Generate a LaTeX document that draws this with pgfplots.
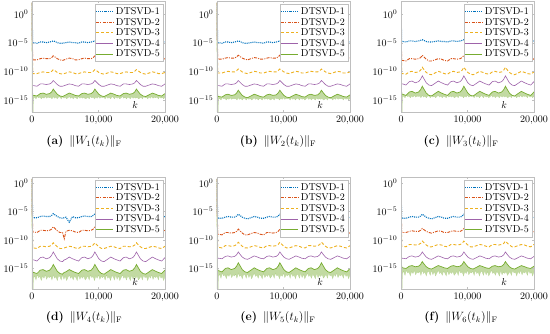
\documentclass[border=0pt]{standalone}
\usepackage{pgfplots}
\pgfplotsset{compat=1.18}
\usepackage{pgfplotstable}
\definecolor{mblue}{RGB}{0,114,189}
\definecolor{mred}{RGB}{217,83,25}
\definecolor{myellow}{RGB}{237,177,32}
\definecolor{mpurple}{RGB}{126,47,142}
\definecolor{mgreen}{RGB}{119,172,48}

\pgfplotstableread{
k B R Y P G
0 100 100 100 100 100
100 1e-5 1e-8 4e-11 3.2e-13 6.3e-15
250 1e-5 1e-8 4e-11 3.2e-13 6.3e-15
750 7.9e-6 1e-8 4e-11 2.5e-13 5e-15
1250 1.3e-5 1.6e-8 6.3e-11 6.3e-13 1.3e-14
1650 1.3e-5 2e-8 7.9e-11 6.3e-13 1.6e-14
2150 1e-5 1.6e-8 6.3e-11 5e-13 1e-14
2650 1.3e-5 1.6e-8 6.3e-11 6.3e-13 1.3e-14
2950 1.6e-5 2.5e-8 1e-10 1e-12 2.5e-14
3200 2e-5 5e-8 2e-10 2.5e-12 7.9e-14
3450 1.6e-5 3.2e-8 1.3e-10 1.3e-12 3.2e-14
3800 1e-5 1.6e-8 6.3e-11 5e-13 1e-14
4200 7.9e-6 1e-8 4e-11 2.5e-13 5e-15
4600 7.9e-6 7.9e-9 3.2e-11 2.5e-13 4e-15
5100 1e-5 1.3e-8 5e-11 4e-13 7.9e-15
5600 1.3e-5 2e-8 7.9e-11 6.3e-13 1.6e-14
6100 1e-5 1.6e-8 6.3e-11 5e-13 1e-14
6500 1e-5 1e-8 4e-11 3.2e-13 6.3e-15
7000 7.9e-6 1e-8 4e-11 2.5e-13 5e-15
7500 1.3e-5 1.6e-8 6.3e-11 6.3e-13 1.3e-14
7900 1.3e-5 2e-8 7.9e-11 6.3e-13 1.6e-14
8400 1e-5 1.6e-8 6.3e-11 5e-13 1e-14
8900 1.3e-5 1.6e-8 6.3e-11 6.3e-13 1.3e-14
9200 1.6e-5 2.5e-8 1e-10 1e-12 2.5e-14
9450 2e-5 5e-8 2e-10 2.5e-12 7.9e-14
9700 1.6e-5 3.2e-8 1.3e-10 1.3e-12 3.2e-14
10050 1e-5 1.6e-8 6.3e-11 5e-13 1e-14
10450 7.9e-6 1e-8 4e-11 2.5e-13 5e-15
10850 7.9e-6 7.9e-9 3.2e-11 2.5e-13 4e-15
11350 1e-5 1.3e-8 5e-11 4e-13 7.9e-15
11850 1.3e-5 2e-8 7.9e-11 6.3e-13 1.6e-14
12350 1e-5 1.6e-8 6.3e-11 5e-13 1e-14
12750 1e-5 1e-8 4e-11 3.2e-13 6.3e-15
13250 7.9e-6 1e-8 4e-11 2.5e-13 5e-15
13750 1.3e-5 1.6e-8 6.3e-11 6.3e-13 1.3e-14
14150 1.3e-5 2e-8 7.9e-11 6.3e-13 1.6e-14
14650 1e-5 1.6e-8 6.3e-11 5e-13 1e-14
15150 1.3e-5 1.6e-8 6.3e-11 6.3e-13 1.3e-14
15450 1.6e-5 2.5e-8 1e-10 1e-12 2.5e-14
15700 2e-5 5e-8 2e-10 2.5e-12 7.9e-14
15950 1.6e-5 3.2e-8 1.3e-10 1.3e-12 3.2e-14
16300 1e-5 1.6e-8 6.3e-11 5e-13 1e-14
16700 7.9e-6 1e-8 4e-11 2.5e-13 5e-15
17100 7.9e-6 7.9e-9 3.2e-11 2.5e-13 4e-15
17600 1e-5 1.3e-8 5e-11 4e-13 7.9e-15
18100 1.3e-5 2e-8 7.9e-11 6.3e-13 1.6e-14
18600 1e-5 1.6e-8 6.3e-11 5e-13 1e-14
19000 1e-5 1e-8 4e-11 3.2e-13 6.3e-15
19500 7.9e-6 1e-8 4e-11 2.5e-13 5e-15
20000 1.3e-5 1.6e-8 6.3e-11 6.3e-13 1.3e-14
}\tabA

\pgfplotstableread{
k B R Y P G
0 100 100 100 100 100
100 1e-5 1.3e-8 5e-11 3.2e-13 4e-15
250 1e-5 1.3e-8 5e-11 3.2e-13 4e-15
750 7.9e-6 1.3e-8 5e-11 2.5e-13 3.2e-15
1250 1.3e-5 2e-8 7.9e-11 6.3e-13 7.9e-15
1650 1.3e-5 2.5e-8 1e-10 6.3e-13 1e-14
2150 1e-5 2e-8 7.9e-11 5e-13 6.3e-15
2650 1.3e-5 2e-8 7.9e-11 6.3e-13 7.9e-15
2950 1.6e-5 3.2e-8 1.3e-10 1e-12 1.6e-14
3200 2e-5 6.3e-8 2.5e-10 2.5e-12 5e-14
3450 1.6e-5 4e-8 1.6e-10 1.3e-12 2e-14
3800 1e-5 2e-8 7.9e-11 5e-13 6.3e-15
4200 7.9e-6 1.3e-8 5e-11 2.5e-13 3.2e-15
4600 7.9e-6 1e-8 4e-11 2.5e-13 2.5e-15
5100 1e-5 1.6e-8 6.3e-11 4e-13 5e-15
5600 1.3e-5 2.5e-8 1e-10 6.3e-13 1e-14
6100 1e-5 2e-8 7.9e-11 5e-13 6.3e-15
6500 1e-5 1.3e-8 5e-11 3.2e-13 4e-15
7000 7.9e-6 1.3e-8 5e-11 2.5e-13 3.2e-15
7500 1.3e-5 2e-8 7.9e-11 6.3e-13 7.9e-15
7900 1.3e-5 2.5e-8 1e-10 6.3e-13 1e-14
8400 1e-5 2e-8 7.9e-11 5e-13 6.3e-15
8900 1.3e-5 2e-8 7.9e-11 6.3e-13 7.9e-15
9200 1.6e-5 3.2e-8 1.3e-10 1e-12 1.6e-14
9450 2e-5 6.3e-8 2.5e-10 2.5e-12 5e-14
9700 1.6e-5 4e-8 1.6e-10 1.3e-12 2e-14
10050 1e-5 2e-8 7.9e-11 5e-13 6.3e-15
10450 7.9e-6 1.3e-8 5e-11 2.5e-13 3.2e-15
10850 7.9e-6 1e-8 4e-11 2.5e-13 2.5e-15
11350 1e-5 1.6e-8 6.3e-11 4e-13 5e-15
11850 1.3e-5 2.5e-8 1e-10 6.3e-13 1e-14
12350 1e-5 2e-8 7.9e-11 5e-13 6.3e-15
12750 1e-5 1.3e-8 5e-11 3.2e-13 4e-15
13250 7.9e-6 1.3e-8 5e-11 2.5e-13 3.2e-15
13750 1.3e-5 2e-8 7.9e-11 6.3e-13 7.9e-15
14150 1.3e-5 2.5e-8 1e-10 6.3e-13 1e-14
14650 1e-5 2e-8 7.9e-11 5e-13 6.3e-15
15150 1.3e-5 2e-8 7.9e-11 6.3e-13 7.9e-15
15450 1.6e-5 3.2e-8 1.3e-10 1e-12 1.6e-14
15700 2e-5 6.3e-8 2.5e-10 2.5e-12 5e-14
15950 1.6e-5 4e-8 1.6e-10 1.3e-12 2e-14
16300 1e-5 2e-8 7.9e-11 5e-13 6.3e-15
16700 7.9e-6 1.3e-8 5e-11 2.5e-13 3.2e-15
17100 7.9e-6 1e-8 4e-11 2.5e-13 2.5e-15
17600 1e-5 1.6e-8 6.3e-11 4e-13 5e-15
18100 1.3e-5 2.5e-8 1e-10 6.3e-13 1e-14
18600 1e-5 2e-8 7.9e-11 5e-13 6.3e-15
19000 1e-5 1.3e-8 5e-11 3.2e-13 4e-15
19500 7.9e-6 1.3e-8 5e-11 2.5e-13 3.2e-15
20000 1.3e-5 2e-8 7.9e-11 6.3e-13 7.9e-15
}\tabB

\pgfplotstableread{
k B R Y P G
0 100 100 100 100 100
100 1.6e-5 7.9e-9 4e-11 6.3e-13 1e-14
250 1.6e-5 7.9e-9 4e-11 6.3e-13 1e-14
750 1.3e-5 6.3e-9 3.2e-11 4e-13 6.3e-15
1250 2e-5 1.6e-8 7.9e-11 1.6e-12 2.5e-14
1650 2e-5 1.6e-8 1e-10 2e-12 3.2e-14
2150 1.6e-5 1.3e-8 6.3e-11 1e-12 1.6e-14
2650 2e-5 1.6e-8 7.9e-11 1.6e-12 2.5e-14
2950 2.5e-5 2.5e-8 1.6e-10 4e-12 6.3e-14
3200 3.2e-5 6.3e-8 5e-10 1.6e-11 2.5e-13
3450 2.5e-5 3.2e-8 2e-10 5e-12 7.9e-14
3800 1.6e-5 1.3e-8 6.3e-11 1e-12 1.6e-14
4200 1.3e-5 6.3e-9 3.2e-11 4e-13 6.3e-15
4600 1.3e-5 6.3e-9 2.5e-11 3.2e-13 5e-15
5100 1.6e-5 1e-8 5e-11 7.9e-13 1.3e-14
5600 2e-5 1.6e-8 1e-10 2e-12 3.2e-14
6100 1.6e-5 1.3e-8 6.3e-11 1e-12 1.6e-14
6500 1.6e-5 7.9e-9 4e-11 6.3e-13 1e-14
7000 1.3e-5 6.3e-9 3.2e-11 4e-13 6.3e-15
7500 2e-5 1.6e-8 7.9e-11 1.6e-12 2.5e-14
7900 2e-5 1.6e-8 1e-10 2e-12 3.2e-14
8400 1.6e-5 1.3e-8 6.3e-11 1e-12 1.6e-14
8900 2e-5 1.6e-8 7.9e-11 1.6e-12 2.5e-14
9200 2.5e-5 2.5e-8 1.6e-10 4e-12 6.3e-14
9450 3.2e-5 6.3e-8 5e-10 1.6e-11 2.5e-13
9700 2.5e-5 3.2e-8 2e-10 5e-12 7.9e-14
10050 1.6e-5 1.3e-8 6.3e-11 1e-12 1.6e-14
10450 1.3e-5 6.3e-9 3.2e-11 4e-13 6.3e-15
10850 1.3e-5 6.3e-9 2.5e-11 3.2e-13 5e-15
11350 1.6e-5 1e-8 5e-11 7.9e-13 1.3e-14
11850 2e-5 1.6e-8 1e-10 2e-12 3.2e-14
12350 1.6e-5 1.3e-8 6.3e-11 1e-12 1.6e-14
12750 1.6e-5 7.9e-9 4e-11 6.3e-13 1e-14
13250 1.3e-5 6.3e-9 3.2e-11 4e-13 6.3e-15
13750 2e-5 1.6e-8 7.9e-11 1.6e-12 2.5e-14
14150 2e-5 1.6e-8 1e-10 2e-12 3.2e-14
14650 1.6e-5 1.3e-8 6.3e-11 1e-12 1.6e-14
15150 2e-5 1.6e-8 7.9e-11 1.6e-12 2.5e-14
15450 2.5e-5 2.5e-8 1.6e-10 4e-12 6.3e-14
15700 3.2e-5 6.3e-8 5e-10 1.6e-11 2.5e-13
15950 2.5e-5 3.2e-8 2e-10 5e-12 7.9e-14
16300 1.6e-5 1.3e-8 6.3e-11 1e-12 1.6e-14
16700 1.3e-5 6.3e-9 3.2e-11 4e-13 6.3e-15
17100 1.3e-5 6.3e-9 2.5e-11 3.2e-13 5e-15
17600 1.6e-5 1e-8 5e-11 7.9e-13 1.3e-14
18100 2e-5 1.6e-8 1e-10 2e-12 3.2e-14
18600 1.6e-5 1.3e-8 6.3e-11 1e-12 1.6e-14
19000 1.6e-5 7.9e-9 4e-11 6.3e-13 1e-14
19500 1.3e-5 6.3e-9 3.2e-11 4e-13 6.3e-15
20000 2e-5 1.6e-8 7.9e-11 1.6e-12 2.5e-14
}\tabC

\pgfplotstableread{
k B R Y P G
0 5 5 5 5 5
100 7.9e-7 2.5e-9 4e-12 3.2e-14 2e-16
250 7.9e-7 2.5e-9 4e-12 3.2e-14 2e-16
750 7.9e-7 2e-9 3.2e-12 2e-14 1.3e-16
1250 1.3e-6 5e-9 7.9e-12 7.9e-14 5e-16
1650 1.6e-6 5e-9 7.9e-12 1e-13 6.3e-16
2150 1.3e-6 4e-9 6.3e-12 5e-14 3.2e-16
2650 1.3e-6 5e-9 7.9e-12 7.9e-14 5e-16
2950 2e-6 7.9e-9 1.3e-11 2e-13 1.3e-15
3200 4e-6 2e-8 3.2e-11 7.9e-13 5e-15
3450 2.5e-6 1e-8 1.6e-11 2.5e-13 1.6e-15
3800 1.3e-6 4e-9 6.3e-12 5e-14 3.2e-16
4200 7.9e-7 2e-9 3.2e-12 2e-14 1.3e-16
4600 6.3e-7 2e-9 3.2e-12 1.6e-14 1e-16
4850 7.9e-7 1.6e-10 4e-12 3.2e-14 2e-16
5100 1e-6 3.2e-9 5e-12 4e-14 2.5e-16
5600 1.3e-7 5e-9 7.9e-12 1e-13 6.3e-16
6100 1.3e-6 4e-9 6.3e-12 5e-14 3.2e-16
6500 7.9e-7 2.5e-9 4e-12 3.2e-14 2e-16
7000 7.9e-7 2e-9 3.2e-12 2e-14 1.3e-16
7500 1.3e-6 5e-9 7.9e-12 7.9e-14 5e-16
7900 1.6e-6 5e-9 7.9e-12 1e-13 6.3e-16
8400 1.3e-6 4e-9 6.3e-12 5e-14 3.2e-16
8900 1.3e-6 5e-9 7.9e-12 7.9e-14 5e-16
9200 2e-6 7.9e-9 1.3e-11 2e-13 1.3e-15
9450 4e-6 2e-8 3.2e-11 7.9e-13 5e-15
9700 2.5e-6 1e-8 1.6e-11 2.5e-13 1.6e-15
10050 1.3e-6 4e-9 6.3e-12 5e-14 3.2e-16
10450 7.9e-7 2e-9 3.2e-12 2e-14 1.3e-16
10850 6.3e-7 2e-9 3.2e-12 1.6e-14 1e-16
11350 1e-6 3.2e-9 5e-12 4e-14 2.5e-16
11850 1.6e-6 5e-9 7.9e-12 1e-13 6.3e-16
12350 1.3e-6 4e-9 6.3e-12 5e-14 3.2e-16
12750 7.9e-7 2.5e-9 4e-12 3.2e-14 2e-16
13250 7.9e-7 2e-9 3.2e-12 2e-14 1.3e-16
13750 1.3e-6 5e-9 7.9e-12 7.9e-14 5e-16
14150 1.6e-6 5e-9 7.9e-12 1e-13 6.3e-16
14650 1.3e-6 4e-9 6.3e-12 5e-14 3.2e-16
15150 1.3e-6 5e-9 7.9e-12 7.9e-14 5e-16
15450 2e-6 7.9e-9 1.3e-11 2e-13 1.3e-15
15700 4e-6 2e-8 3.2e-11 7.9e-13 5e-15
15950 2.5e-6 1e-8 1.6e-11 2.5e-13 1.6e-15
16300 1.3e-6 4e-9 6.3e-12 5e-14 3.2e-16
16700 7.9e-7 2e-9 3.2e-12 2e-14 1.3e-16
17100 6.3e-7 2e-9 3.2e-12 1.6e-14 1e-16
17600 1e-6 3.2e-9 5e-12 4e-14 2.5e-16
18100 1.6e-6 5e-9 7.9e-12 1e-13 6.3e-16
18600 1.3e-6 4e-9 6.3e-12 5e-14 3.2e-16
19000 7.9e-7 2.5e-9 4e-12 3.2e-14 2e-16
19500 7.9e-7 2e-9 3.2e-12 2e-14 1.3e-16
20000 1.3e-6 5e-9 7.9e-12 7.9e-14 5e-16
}\tabD

\pgfplotstableread{
k B R Y P G
0 5 5 5 5 5
100 6.3e-7 1e-9 5e-12 6.3e-14 4e-16
250 6.3e-7 1e-9 5e-12 6.3e-14 4e-16
750 6.3e-7 7.9e-10 4e-12 5e-14 2.5e-16
1250 1e-6 2e-9 1e-11 1.3e-13 1e-15
1650 1.3e-6 2e-9 1e-11 1.6e-13 1.3e-15
2150 1e-6 1.6e-9 7.9e-12 1e-13 6.3e-16
2650 1e-6 2e-9 1e-11 1.3e-13 1e-15
2950 1.6e-6 3.2e-9 1.6e-11 2.5e-13 2.5e-15
3200 3.2e-6 7.9e-9 4e-11 7.9e-13 1e-14
3450 2e-6 4e-9 2e-11 3.2e-13 3.2e-15
3800 1e-6 1.6e-9 7.9e-12 1e-13 6.3e-16
4200 6.3e-7 7.9e-10 4e-12 5e-14 2.5e-16
4600 5e-7 7.9e-10 4e-12 4e-14 2e-16
5100 7.9e-7 1.3e-9 6.3e-12 7.9e-14 5e-16
5600 1.3e-6 2e-9 1e-11 1.6e-13 1.3e-15
6100 1e-6 1.6e-9 7.9e-12 1e-13 6.3e-16
6500 6.3e-7 1e-9 5e-12 6.3e-14 4e-16
7000 6.3e-7 7.9e-10 4e-12 5e-14 2.5e-16
7500 1e-6 2e-9 1e-11 1.3e-13 1e-15
7900 1.3e-6 2e-9 1e-11 1.6e-13 1.3e-15
8400 1e-6 1.6e-9 7.9e-12 1e-13 6.3e-16
8900 1e-6 2e-9 1e-11 1.3e-13 1e-15
9200 1.6e-6 3.2e-9 1.6e-11 2.5e-13 2.5e-15
9450 3.2e-6 7.9e-9 4e-11 7.9e-13 1e-14
9700 2e-6 4e-9 2e-11 3.2e-13 3.2e-15
10050 1e-6 1.6e-9 7.9e-12 1e-13 6.3e-16
10450 6.3e-7 7.9e-10 4e-12 5e-14 2.5e-16
10850 5e-7 7.9e-10 4e-12 4e-14 2e-16
11350 7.9e-7 1.3e-9 6.3e-12 7.9e-14 5e-16
11850 1.3e-6 2e-9 1e-11 1.6e-13 1.3e-15
12350 1e-6 1.6e-9 7.9e-12 1e-13 6.3e-16
12750 6.3e-7 1e-9 5e-12 6.3e-14 4e-16
13250 6.3e-7 7.9e-10 4e-12 5e-14 2.5e-16
13750 1e-6 2e-9 1e-11 1.3e-13 1e-15
14150 1.3e-6 2e-9 1e-11 1.6e-13 1.3e-15
14650 1e-6 1.6e-9 7.9e-12 1e-13 6.3e-16
15150 1e-6 2e-9 1e-11 1.3e-13 1e-15
15450 1.6e-6 3.2e-9 1.6e-11 2.5e-13 2.5e-15
15700 3.2e-6 7.9e-9 4e-11 7.9e-13 1e-14
15950 2e-6 4e-9 2e-11 3.2e-13 3.2e-15
16300 1e-6 1.6e-9 7.9e-12 1e-13 6.3e-16
16700 6.3e-7 7.9e-10 4e-12 5e-14 2.5e-16
17100 5e-7 7.9e-10 4e-12 4e-14 2e-16
17600 7.9e-7 1.3e-9 6.3e-12 7.9e-14 5e-16
18100 1.3e-6 2e-9 1e-11 1.6e-13 1.3e-15
18600 1e-6 1.6e-9 7.9e-12 1e-13 6.3e-16
19000 6.3e-7 1e-9 5e-12 6.3e-14 4e-16
19500 6.3e-7 7.9e-10 4e-12 5e-14 2.5e-16
20000 1e-6 2e-9 1e-11 1.3e-13 1e-15
}\tabE

\pgfplotstableread{
k B R Y P G
0 5 5 5 5 5
100 6.3e-7 2e-9 7.9e-12 6.3e-14 1.3e-15
250 6.3e-7 2e-9 7.9e-12 6.3e-14 1.3e-15
750 6.3e-7 2e-9 6.3e-12 5e-14 1e-15
1250 1e-6 3.2e-9 1.6e-11 1.3e-13 2.5e-15
1650 1.3e-6 4e-9 1.6e-11 1.6e-13 3.2e-15
2150 1e-6 3.2e-9 1.3e-11 1e-13 2e-15
2650 1e-6 3.2e-9 1.6e-11 1.3e-13 2.5e-15
2950 1.6e-6 5e-9 2.5e-11 2.5e-13 5e-15
3200 3.2e-6 1e-8 6.3e-11 7.9e-13 1.6e-14
3450 2e-6 6.3e-9 3.2e-11 3.2e-13 6.3e-15
3800 1e-6 3.2e-9 1.3e-11 1e-13 2e-15
4200 6.3e-7 2e-9 6.3e-12 5e-14 1e-15
4600 5e-7 1.6e-9 6.3e-12 4e-14 7.9e-16
5100 7.9e-7 2.5e-9 1e-11 7.9e-14 1.6e-15
5600 1.3e-6 4e-9 1.6e-11 1.6e-13 3.2e-15
6100 1e-6 3.2e-9 1.3e-11 1e-13 2e-15
6500 6.3e-7 2e-9 7.9e-12 6.3e-14 1.3e-15
7000 6.3e-7 2e-9 6.3e-12 5e-14 1e-15
7500 1e-6 3.2e-9 1.6e-11 1.3e-13 2.5e-15
7900 1.3e-6 4e-9 1.6e-11 1.6e-13 3.2e-15
8400 1e-6 3.2e-9 1.3e-11 1e-13 2e-15
8900 1e-6 3.2e-9 1.6e-11 1.3e-13 2.5e-15
9200 1.6e-6 5e-9 2.5e-11 2.5e-13 5e-15
9450 3.2e-6 1e-8 6.3e-11 7.9e-13 1.6e-14
9700 2e-6 6.3e-9 3.2e-11 3.2e-13 6.3e-15
10050 1e-6 3.2e-9 1.3e-11 1e-13 2e-15
10450 6.3e-7 2e-9 6.3e-12 5e-14 1e-15
10850 5e-7 1.6e-9 6.3e-12 4e-14 7.9e-16
11350 7.9e-7 2.5e-9 1e-11 7.9e-14 1.6e-15
11850 1.3e-6 4e-9 1.6e-11 1.6e-13 3.2e-15
12350 1e-6 3.2e-9 1.3e-11 1e-13 2e-15
12750 6.3e-7 2e-9 7.9e-12 6.3e-14 1.3e-15
13250 6.3e-7 2e-9 6.3e-12 5e-14 1e-15
13750 1e-6 3.2e-9 1.6e-11 1.3e-13 2.5e-15
14150 1.3e-6 4e-9 1.6e-11 1.6e-13 3.2e-15
14650 1e-6 3.2e-9 1.3e-11 1e-13 2e-15
15150 1e-6 3.2e-9 1.6e-11 1.3e-13 2.5e-15
15450 1.6e-6 5e-9 2.5e-11 2.5e-13 5e-15
15700 3.2e-6 1e-8 6.3e-11 7.9e-13 1.6e-14
15950 2e-6 6.3e-9 3.2e-11 3.2e-13 6.3e-15
16300 1e-6 3.2e-9 1.3e-11 1e-13 2e-15
16700 6.3e-7 2e-9 6.3e-12 5e-14 1e-15
17100 5e-7 1.6e-9 6.3e-12 4e-14 7.9e-16
17600 7.9e-7 2.5e-9 1e-11 7.9e-14 1.6e-15
18100 1.3e-6 4e-9 1.6e-11 1.6e-13 3.2e-15
18600 1e-6 3.2e-9 1.3e-11 1e-13 2e-15
19000 6.3e-7 2e-9 7.9e-12 6.3e-14 1.3e-15
19500 6.3e-7 2e-9 6.3e-12 5e-14 1e-15
20000 1e-6 3.2e-9 1.6e-11 1.3e-13 2.5e-15
}\tabF

% lower envelope of the noisy DTSVD-5 band, one column per panel
\pgfplotstableread{
k ea eb ec ed ee ef
0 1e-19 1e-19 1e-19 1e-20 1e-20 1e-20
150 1e-19 1e-19 1e-19 1e-20 1e-20 1e-20
200 2e-15 1.3e-15 3.2e-15 2e-17 4e-17 1.3e-16
400 3.2e-15 2e-15 5e-15 5e-17 1e-16 3.2e-16
600 1.6e-15 1e-15 2.5e-15 1e-17 2e-17 6.3e-17
800 4e-15 2.5e-15 6.3e-15 7.9e-17 1.6e-16 5e-16
1000 2.5e-15 1.6e-15 4e-15 2.5e-17 5e-17 1.6e-16
1200 3.2e-15 2e-15 5e-15 4e-17 7.9e-17 2.5e-16
1400 1.6e-15 1e-15 2.5e-15 7.9e-18 1.6e-17 5e-17
1600 3.2e-15 2e-15 5e-15 5e-17 1e-16 3.2e-16
1800 2e-15 1.3e-15 3.2e-15 2e-17 4e-17 1.3e-16
2000 4e-15 2.5e-15 6.3e-15 7.9e-17 1.6e-16 5e-16
2200 2e-15 1.3e-15 3.2e-15 1.3e-17 2.5e-17 7.9e-17
2400 3.2e-15 2e-15 5e-15 4e-17 7.9e-17 2.5e-16
2600 2.5e-15 1.6e-15 4e-15 2.5e-17 5e-17 1.6e-16
2800 3.2e-15 2e-15 5e-15 5e-17 1e-16 3.2e-16
3000 1.6e-15 1e-15 2.5e-15 1e-17 2e-17 6.3e-17
3200 4e-15 2.5e-15 6.3e-15 7.9e-17 1.6e-16 5e-16
3400 2e-15 1.3e-15 3.2e-15 2e-17 4e-17 1.3e-16
3600 3.2e-15 2e-15 5e-15 4e-17 7.9e-17 2.5e-16
3800 1.6e-15 1e-15 2.5e-15 7.9e-18 1.6e-17 5e-17
4000 3.2e-15 2e-15 5e-15 5e-17 1e-16 3.2e-16
4200 3.2e-15 2e-15 5e-15 4e-17 7.9e-17 2.5e-16
4400 1.6e-15 1e-15 2.5e-15 1e-17 2e-17 6.3e-17
4600 4e-15 2.5e-15 6.3e-15 7.9e-17 1.6e-16 5e-16
4800 2e-15 1.3e-15 3.2e-15 1.3e-17 2.5e-17 7.9e-17
5000 3.2e-15 2e-15 5e-15 5e-17 1e-16 3.2e-16
5200 1.6e-15 1e-15 2.5e-15 7.9e-18 1.6e-17 5e-17
5400 2.5e-15 1.6e-15 4e-15 2.5e-17 5e-17 1.6e-16
5600 4e-15 2.5e-15 6.3e-15 7.9e-17 1.6e-16 5e-16
5800 2e-15 1.3e-15 3.2e-15 2e-17 4e-17 1.3e-16
6000 3.2e-15 2e-15 5e-15 4e-17 7.9e-17 2.5e-16
6200 1.6e-15 1e-15 2.5e-15 1e-17 2e-17 6.3e-17
6400 3.2e-15 2e-15 5e-15 5e-17 1e-16 3.2e-16
6600 2.5e-15 1.6e-15 4e-15 2.5e-17 5e-17 1.6e-16
6800 1.6e-15 1e-15 2.5e-15 7.9e-18 1.6e-17 5e-17
7000 4e-15 2.5e-15 6.3e-15 7.9e-17 1.6e-16 5e-16
7200 2e-15 1.3e-15 3.2e-15 1.3e-17 2.5e-17 7.9e-17
7400 3.2e-15 2e-15 5e-15 4e-17 7.9e-17 2.5e-16
7600 2e-15 1.3e-15 3.2e-15 2e-17 4e-17 1.3e-16
7800 3.2e-15 2e-15 5e-15 5e-17 1e-16 3.2e-16
8000 1.6e-15 1e-15 2.5e-15 1e-17 2e-17 6.3e-17
8200 2e-15 1.3e-15 3.2e-15 2e-17 4e-17 1.3e-16
8400 3.2e-15 2e-15 5e-15 5e-17 1e-16 3.2e-16
8600 1.6e-15 1e-15 2.5e-15 1e-17 2e-17 6.3e-17
8800 4e-15 2.5e-15 6.3e-15 7.9e-17 1.6e-16 5e-16
9000 2.5e-15 1.6e-15 4e-15 2.5e-17 5e-17 1.6e-16
9200 3.2e-15 2e-15 5e-15 4e-17 7.9e-17 2.5e-16
9400 1.6e-15 1e-15 2.5e-15 7.9e-18 1.6e-17 5e-17
9600 3.2e-15 2e-15 5e-15 5e-17 1e-16 3.2e-16
9800 2e-15 1.3e-15 3.2e-15 2e-17 4e-17 1.3e-16
10000 4e-15 2.5e-15 6.3e-15 7.9e-17 1.6e-16 5e-16
10200 2e-15 1.3e-15 3.2e-15 1.3e-17 2.5e-17 7.9e-17
10400 3.2e-15 2e-15 5e-15 4e-17 7.9e-17 2.5e-16
10600 2.5e-15 1.6e-15 4e-15 2.5e-17 5e-17 1.6e-16
10800 3.2e-15 2e-15 5e-15 5e-17 1e-16 3.2e-16
11000 1.6e-15 1e-15 2.5e-15 1e-17 2e-17 6.3e-17
11200 4e-15 2.5e-15 6.3e-15 7.9e-17 1.6e-16 5e-16
11400 2e-15 1.3e-15 3.2e-15 2e-17 4e-17 1.3e-16
11600 3.2e-15 2e-15 5e-15 4e-17 7.9e-17 2.5e-16
11800 1.6e-15 1e-15 2.5e-15 7.9e-18 1.6e-17 5e-17
12000 3.2e-15 2e-15 5e-15 5e-17 1e-16 3.2e-16
12200 3.2e-15 2e-15 5e-15 4e-17 7.9e-17 2.5e-16
12400 1.6e-15 1e-15 2.5e-15 1e-17 2e-17 6.3e-17
12600 4e-15 2.5e-15 6.3e-15 7.9e-17 1.6e-16 5e-16
12800 2e-15 1.3e-15 3.2e-15 1.3e-17 2.5e-17 7.9e-17
13000 3.2e-15 2e-15 5e-15 5e-17 1e-16 3.2e-16
13200 1.6e-15 1e-15 2.5e-15 7.9e-18 1.6e-17 5e-17
13400 2.5e-15 1.6e-15 4e-15 2.5e-17 5e-17 1.6e-16
13600 4e-15 2.5e-15 6.3e-15 7.9e-17 1.6e-16 5e-16
13800 2e-15 1.3e-15 3.2e-15 2e-17 4e-17 1.3e-16
14000 3.2e-15 2e-15 5e-15 4e-17 7.9e-17 2.5e-16
14200 1.6e-15 1e-15 2.5e-15 1e-17 2e-17 6.3e-17
14400 3.2e-15 2e-15 5e-15 5e-17 1e-16 3.2e-16
14600 2.5e-15 1.6e-15 4e-15 2.5e-17 5e-17 1.6e-16
14800 1.6e-15 1e-15 2.5e-15 7.9e-18 1.6e-17 5e-17
15000 4e-15 2.5e-15 6.3e-15 7.9e-17 1.6e-16 5e-16
15200 2e-15 1.3e-15 3.2e-15 1.3e-17 2.5e-17 7.9e-17
15400 3.2e-15 2e-15 5e-15 4e-17 7.9e-17 2.5e-16
15600 2e-15 1.3e-15 3.2e-15 2e-17 4e-17 1.3e-16
15800 3.2e-15 2e-15 5e-15 5e-17 1e-16 3.2e-16
16000 1.6e-15 1e-15 2.5e-15 1e-17 2e-17 6.3e-17
16200 2e-15 1.3e-15 3.2e-15 2e-17 4e-17 1.3e-16
16400 3.2e-15 2e-15 5e-15 5e-17 1e-16 3.2e-16
16600 1.6e-15 1e-15 2.5e-15 1e-17 2e-17 6.3e-17
16800 4e-15 2.5e-15 6.3e-15 7.9e-17 1.6e-16 5e-16
17000 2.5e-15 1.6e-15 4e-15 2.5e-17 5e-17 1.6e-16
17200 3.2e-15 2e-15 5e-15 4e-17 7.9e-17 2.5e-16
17400 1.6e-15 1e-15 2.5e-15 7.9e-18 1.6e-17 5e-17
17600 3.2e-15 2e-15 5e-15 5e-17 1e-16 3.2e-16
17800 2e-15 1.3e-15 3.2e-15 2e-17 4e-17 1.3e-16
18000 4e-15 2.5e-15 6.3e-15 7.9e-17 1.6e-16 5e-16
18200 2e-15 1.3e-15 3.2e-15 1.3e-17 2.5e-17 7.9e-17
18400 3.2e-15 2e-15 5e-15 4e-17 7.9e-17 2.5e-16
18600 2.5e-15 1.6e-15 4e-15 2.5e-17 5e-17 1.6e-16
18800 3.2e-15 2e-15 5e-15 5e-17 1e-16 3.2e-16
19000 1.6e-15 1e-15 2.5e-15 1e-17 2e-17 6.3e-17
19200 4e-15 2.5e-15 6.3e-15 7.9e-17 1.6e-16 5e-16
19400 2e-15 1.3e-15 3.2e-15 2e-17 4e-17 1.3e-16
19600 3.2e-15 2e-15 5e-15 4e-17 7.9e-17 2.5e-16
19800 1.6e-15 1e-15 2.5e-15 7.9e-18 1.6e-17 5e-17
20000 3.2e-15 2e-15 5e-15 5e-17 1e-16 3.2e-16
}\tabEnv

\pgfplotsset{
  every axis/.append style={
    scale only axis, width=133pt,
    xmin=0, xmax=20000,
    xtick={0,10000,20000}, xticklabels={0,{10,000},{20,000}},
    scaled x ticks=false,
    axis line style={gray!50}, tick style={gray!50},
    major tick length=2pt, axis on top,
    log origin y=infty,
    xlabel={$k$},
    xlabel style={at={(axis description cs:0.775,0.06)},anchor=center,inner sep=0pt},
    legend style={at={(0.985,0.975)},anchor=north east,draw=gray!50,
      font=\fontsize{10}{10}\selectfont,inner sep=1pt,row sep=-2pt},
    legend cell align=left,
  },
}
\tikzset{subcap/.style={font=\fontsize{12}{14}\selectfont}}

\begin{document}
\begin{tikzpicture}
\path[use as bounding box] (0,0) rectangle (550pt,-334pt);

\begin{axis}[ymode=log,ymin=8e-18,ymax=150,height=110.5pt,ytick={1e-15,1e-10,1e-5,1},
  at={(32pt,-1.5pt)},anchor=north west]
\addplot[fill=mgreen!45,draw=none,forget plot] table[x=k,y=G]{\tabA} \closedcycle;
\addplot[fill=white,draw=none,forget plot] table[x=k,y=ea]{\tabEnv} \closedcycle;
\addplot[draw=mgreen!60,line width=0.25pt,forget plot] table[x=k,y=ea]{\tabEnv};
\addplot[color=mblue,line width=1.1pt,dash pattern=on 1pt off 1pt] table[x=k,y=B]{\tabA};
\addplot[color=mred,line width=0.9pt,dash pattern=on 3pt off 1.2pt on 1pt off 1.2pt] table[x=k,y=R]{\tabA};
\addplot[color=myellow,line width=0.9pt,dash pattern=on 3pt off 2pt] table[x=k,y=Y]{\tabA};
\addplot[color=mpurple!75,line width=0.6pt] table[x=k,y=P]{\tabA};
\addplot[color=mgreen,line width=0.7pt] table[x=k,y=G]{\tabA};
\legend{DTSVD-1,DTSVD-2,DTSVD-3,DTSVD-4,DTSVD-5}
\end{axis}
\node[subcap] at (84pt,-142pt) {\textbf{(a)}\enspace$\|W_1(t_k)\|_{\mathrm{F}}$};

\begin{axis}[ymode=log,ymin=8e-18,ymax=150,height=110.5pt,ytick={1e-15,1e-10,1e-5,1},
  at={(217pt,-1.5pt)},anchor=north west]
\addplot[fill=mgreen!45,draw=none,forget plot] table[x=k,y=G]{\tabB} \closedcycle;
\addplot[fill=white,draw=none,forget plot] table[x=k,y=eb]{\tabEnv} \closedcycle;
\addplot[draw=mgreen!60,line width=0.25pt,forget plot] table[x=k,y=eb]{\tabEnv};
\addplot[color=mblue,line width=1.1pt,dash pattern=on 1pt off 1pt] table[x=k,y=B]{\tabB};
\addplot[color=mred,line width=0.9pt,dash pattern=on 3pt off 1.2pt on 1pt off 1.2pt] table[x=k,y=R]{\tabB};
\addplot[color=myellow,line width=0.9pt,dash pattern=on 3pt off 2pt] table[x=k,y=Y]{\tabB};
\addplot[color=mpurple!75,line width=0.6pt] table[x=k,y=P]{\tabB};
\addplot[color=mgreen,line width=0.7pt] table[x=k,y=G]{\tabB};
\legend{DTSVD-1,DTSVD-2,DTSVD-3,DTSVD-4,DTSVD-5}
\end{axis}
\node[subcap] at (278pt,-142pt) {\textbf{(b)}\enspace$\|W_2(t_k)\|_{\mathrm{F}}$};

\begin{axis}[ymode=log,ymin=8e-18,ymax=150,height=110.5pt,ytick={1e-15,1e-10,1e-5,1},
  at={(401pt,-1.5pt)},anchor=north west]
\addplot[fill=mgreen!45,draw=none,forget plot] table[x=k,y=G]{\tabC} \closedcycle;
\addplot[fill=white,draw=none,forget plot] table[x=k,y=ec]{\tabEnv} \closedcycle;
\addplot[draw=mgreen!60,line width=0.25pt,forget plot] table[x=k,y=ec]{\tabEnv};
\addplot[color=mblue,line width=1.1pt,dash pattern=on 1pt off 1pt] table[x=k,y=B]{\tabC};
\addplot[color=mred,line width=0.9pt,dash pattern=on 3pt off 1.2pt on 1pt off 1.2pt] table[x=k,y=R]{\tabC};
\addplot[color=myellow,line width=0.9pt,dash pattern=on 3pt off 2pt] table[x=k,y=Y]{\tabC};
\addplot[color=mpurple!75,line width=0.6pt] table[x=k,y=P]{\tabC};
\addplot[color=mgreen,line width=0.7pt] table[x=k,y=G]{\tabC};
\legend{DTSVD-1,DTSVD-2,DTSVD-3,DTSVD-4,DTSVD-5}
\end{axis}
\node[subcap] at (461pt,-142pt) {\textbf{(c)}\enspace$\|W_3(t_k)\|_{\mathrm{F}}$};

\begin{axis}[ymode=log,ymin=2.5e-19,ymax=11,height=112pt,ytick={1e-15,1e-10,1e-5,1},
  at={(32pt,-177pt)},anchor=north west]
\addplot[fill=mgreen!45,draw=none,forget plot] table[x=k,y=G]{\tabD} \closedcycle;
\addplot[fill=white,draw=none,forget plot] table[x=k,y=ed]{\tabEnv} \closedcycle;
\addplot[draw=mgreen!60,line width=0.25pt,forget plot] table[x=k,y=ed]{\tabEnv};
\addplot[color=mblue,line width=1.1pt,dash pattern=on 1pt off 1pt] table[x=k,y=B]{\tabD};
\addplot[color=mred,line width=0.9pt,dash pattern=on 3pt off 1.2pt on 1pt off 1.2pt] table[x=k,y=R]{\tabD};
\addplot[color=myellow,line width=0.9pt,dash pattern=on 3pt off 2pt] table[x=k,y=Y]{\tabD};
\addplot[color=mpurple!75,line width=0.6pt] table[x=k,y=P]{\tabD};
\addplot[color=mgreen,line width=0.7pt] table[x=k,y=G]{\tabD};
\legend{DTSVD-1,DTSVD-2,DTSVD-3,DTSVD-4,DTSVD-5}
\end{axis}
\node[subcap] at (84pt,-318pt) {\textbf{(d)}\enspace$\|W_4(t_k)\|_{\mathrm{F}}$};

\begin{axis}[ymode=log,ymin=2.5e-19,ymax=11,height=112pt,ytick={1e-15,1e-10,1e-5,1},
  at={(217pt,-177pt)},anchor=north west]
\addplot[fill=mgreen!45,draw=none,forget plot] table[x=k,y=G]{\tabE} \closedcycle;
\addplot[fill=white,draw=none,forget plot] table[x=k,y=ee]{\tabEnv} \closedcycle;
\addplot[draw=mgreen!60,line width=0.25pt,forget plot] table[x=k,y=ee]{\tabEnv};
\addplot[color=mblue,line width=1.1pt,dash pattern=on 1pt off 1pt] table[x=k,y=B]{\tabE};
\addplot[color=mred,line width=0.9pt,dash pattern=on 3pt off 1.2pt on 1pt off 1.2pt] table[x=k,y=R]{\tabE};
\addplot[color=myellow,line width=0.9pt,dash pattern=on 3pt off 2pt] table[x=k,y=Y]{\tabE};
\addplot[color=mpurple!75,line width=0.6pt] table[x=k,y=P]{\tabE};
\addplot[color=mgreen,line width=0.7pt] table[x=k,y=G]{\tabE};
\legend{DTSVD-1,DTSVD-2,DTSVD-3,DTSVD-4,DTSVD-5}
\end{axis}
\node[subcap] at (278pt,-318pt) {\textbf{(e)}\enspace$\|W_5(t_k)\|_{\mathrm{F}}$};

\begin{axis}[ymode=log,ymin=2.5e-19,ymax=11,height=112pt,ytick={1e-15,1e-10,1e-5,1},
  at={(401pt,-177pt)},anchor=north west]
\addplot[fill=mgreen!45,draw=none,forget plot] table[x=k,y=G]{\tabF} \closedcycle;
\addplot[fill=white,draw=none,forget plot] table[x=k,y=ef]{\tabEnv} \closedcycle;
\addplot[draw=mgreen!60,line width=0.25pt,forget plot] table[x=k,y=ef]{\tabEnv};
\addplot[color=mblue,line width=1.1pt,dash pattern=on 1pt off 1pt] table[x=k,y=B]{\tabF};
\addplot[color=mred,line width=0.9pt,dash pattern=on 3pt off 1.2pt on 1pt off 1.2pt] table[x=k,y=R]{\tabF};
\addplot[color=myellow,line width=0.9pt,dash pattern=on 3pt off 2pt] table[x=k,y=Y]{\tabF};
\addplot[color=mpurple!75,line width=0.6pt] table[x=k,y=P]{\tabF};
\addplot[color=mgreen,line width=0.7pt] table[x=k,y=G]{\tabF};
\legend{DTSVD-1,DTSVD-2,DTSVD-3,DTSVD-4,DTSVD-5}
\end{axis}
\node[subcap] at (461pt,-318pt) {\textbf{(f)}\enspace$\|W_6(t_k)\|_{\mathrm{F}}$};
\end{tikzpicture}
\end{document}
